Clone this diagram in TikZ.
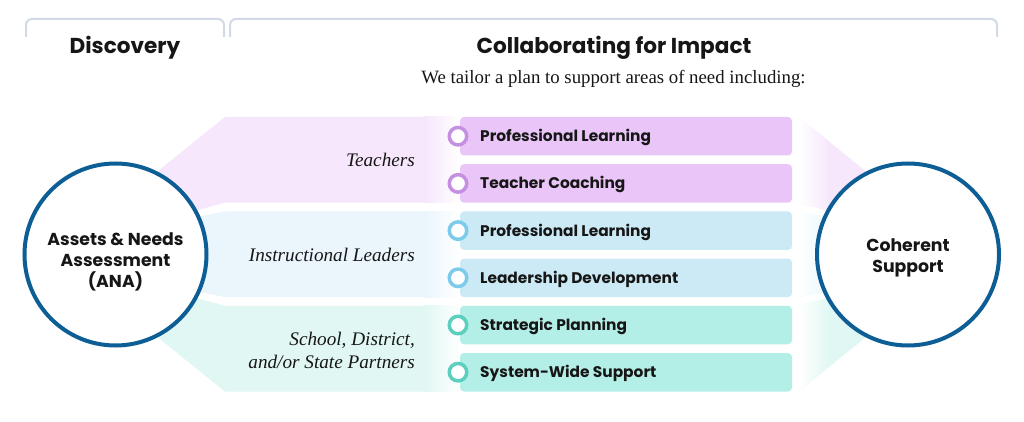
\documentclass[tikz,border=0pt]{standalone}
\usepackage{fontspec}
\setmainfont{Liberation Serif}
\setsansfont{Poppins}
\begin{document}
\begin{tikzpicture}[x=1pt,y=-1pt,
  bracketline/.style={draw=brk,line width=2pt,rounded corners=6pt},
  head/.style={font=\sffamily\bfseries\fontsize{21.6}{26}\selectfont,text=ink,inner sep=0pt},
  grp/.style={font=\itshape\fontsize{19.2}{23}\selectfont,text=ink,inner sep=0pt,anchor=east,align=right},
  pilltext/.style={font=\sffamily\bfseries\fontsize{15.4}{18}\selectfont,text=ink,inner sep=0pt,anchor=west},
  bigcircle/.style={circle,draw=ring,line width=4pt,fill=white,minimum size=182pt,inner sep=0pt},
  circtext/.style={font=\sffamily\bfseries\fontsize{17.3}{21}\selectfont,text=ink,align=center,inner sep=0pt},
  marker/.style={circle,draw=#1,line width=3.5pt,fill=white,minimum size=17.5pt,inner sep=0pt}
]
\definecolor{brk}{RGB}{210,218,232}
\definecolor{ink}{RGB}{22,22,22}
\definecolor{ring}{RGB}{14,94,150}
\definecolor{pband}{RGB}{246,231,252}
\definecolor{ppill}{RGB}{233,198,247}
\definecolor{pmark}{RGB}{197,143,226}
\definecolor{bband}{RGB}{234,246,252}
\definecolor{bpill}{RGB}{204,234,245}
\definecolor{bmark}{RGB}{125,203,235}
\definecolor{tband}{RGB}{224,247,244}
\definecolor{tpill}{RGB}{179,239,230}
\definecolor{tmark}{RGB}{92,207,191}

\useasboundingbox (0,0) rectangle (1024,422);
\fill[white] (0,0) rectangle (1024,422);

% brackets
\draw[bracketline] (26,37) -- (26,19) -- (224,19) -- (224,37);
\draw[bracketline] (230,37) -- (230,19) -- (997,19) -- (997,37);

% headings
\node[head] (disc) at (125,48) {Discovery};
\node[head] (collab) at (614,48) {Collaborating for Impact};
\node[font=\fontsize{18.8}{22}\selectfont,text=ink,inner sep=0pt] (sub) at (613.5,79) {We tailor a plan to support areas of need including:};

% left bands
\fill[pband] (140,185.5) -- (225,117) -- (425,117) -- (425,202.7) -- (225,202.7) -- (140,225.5) -- cycle;
\shade[left color=pband,right color=white] (424.5,117) rectangle (460,202.7);
\fill[bband] (140,228.5) -- (225,211.4) -- (425,211.4) -- (425,297.1) -- (225,297.1) -- (140,280) -- cycle;
\shade[left color=bband,right color=white] (424.5,211.4) rectangle (460,297.1);
\fill[tband] (140,283) -- (225,305.8) -- (425,305.8) -- (425,391.5) -- (225,391.5) -- (140,323) -- cycle;
\shade[left color=tband,right color=white] (424.5,305.8) rectangle (460,391.5);

% right funnels
\begin{scope}
\clip (798.5,117) -- (883.5,185.5) -- (883.5,225.5) -- (798.5,202.7) -- cycle;
\fill[pband] (798.5,100) rectangle (900,240);
\shade[left color=white,right color=pband] (798.5,100) rectangle (830,240);
\end{scope}
\begin{scope}
\clip (798.5,211.4) -- (883.5,228.5) -- (883.5,280) -- (798.5,297.1) -- cycle;
\fill[bband] (798.5,200) rectangle (900,300);
\shade[left color=white,right color=bband] (798.5,200) rectangle (830,300);
\end{scope}
\begin{scope}
\clip (798.5,305.8) -- (883.5,283) -- (883.5,323) -- (798.5,391.5) -- cycle;
\fill[tband] (798.5,270) rectangle (900,400);
\shade[left color=white,right color=tband] (798.5,270) rectangle (830,400);
\end{scope}

% group labels
\node[grp] (teach) at (415,160) {Teachers};
\node[grp] (instr) at (415,255) {Instructional Leaders};
\node[grp] (part) at (415,350) {School, District,\\and/or State Partners};

% pills
\fill[ppill,rounded corners=4pt] (460,117) rectangle (792,155.5);
\fill[ppill,rounded corners=4pt] (460,164.2) rectangle (792,202.7);
\fill[bpill,rounded corners=4pt] (460,211.4) rectangle (792,249.9);
\fill[bpill,rounded corners=4pt] (460,258.6) rectangle (792,297.1);
\fill[tpill,rounded corners=4pt] (460,305.8) rectangle (792,344.3);
\fill[tpill,rounded corners=4pt] (460,353) rectangle (792,391.5);

\node[marker=pmark] (m1) at (458,136.2) {};
\node[marker=pmark] (m2) at (458,183.4) {};
\node[marker=bmark] (m3) at (458,230.6) {};
\node[marker=bmark] (m4) at (458,277.8) {};
\node[marker=tmark] (m5) at (458,325) {};
\node[marker=tmark] (m6) at (458,372.2) {};

\node[pilltext] (p1) at (480,137.6) {Professional Learning};
\node[pilltext] (p2) at (480,184.8) {Teacher Coaching};
\node[pilltext] (p3) at (480,232) {Professional Learning};
\node[pilltext] (p4) at (480,279.2) {Leadership Development};
\node[pilltext] (p5) at (480,326.4) {Strategic Planning};
\node[pilltext] (p6) at (480,373.6) {System-Wide Support};

% circles
\node[bigcircle] (ana) at (115.5,254.5) {};
\node[bigcircle] (coh) at (908,254.5) {};
\node[circtext] (anatext) at (115.5,261.5) {Assets \& Needs\\Assessment\\(ANA)};
\node[circtext] (cohtext) at (908,257.5) {Coherent\\Support};
\end{tikzpicture}
\end{document}
